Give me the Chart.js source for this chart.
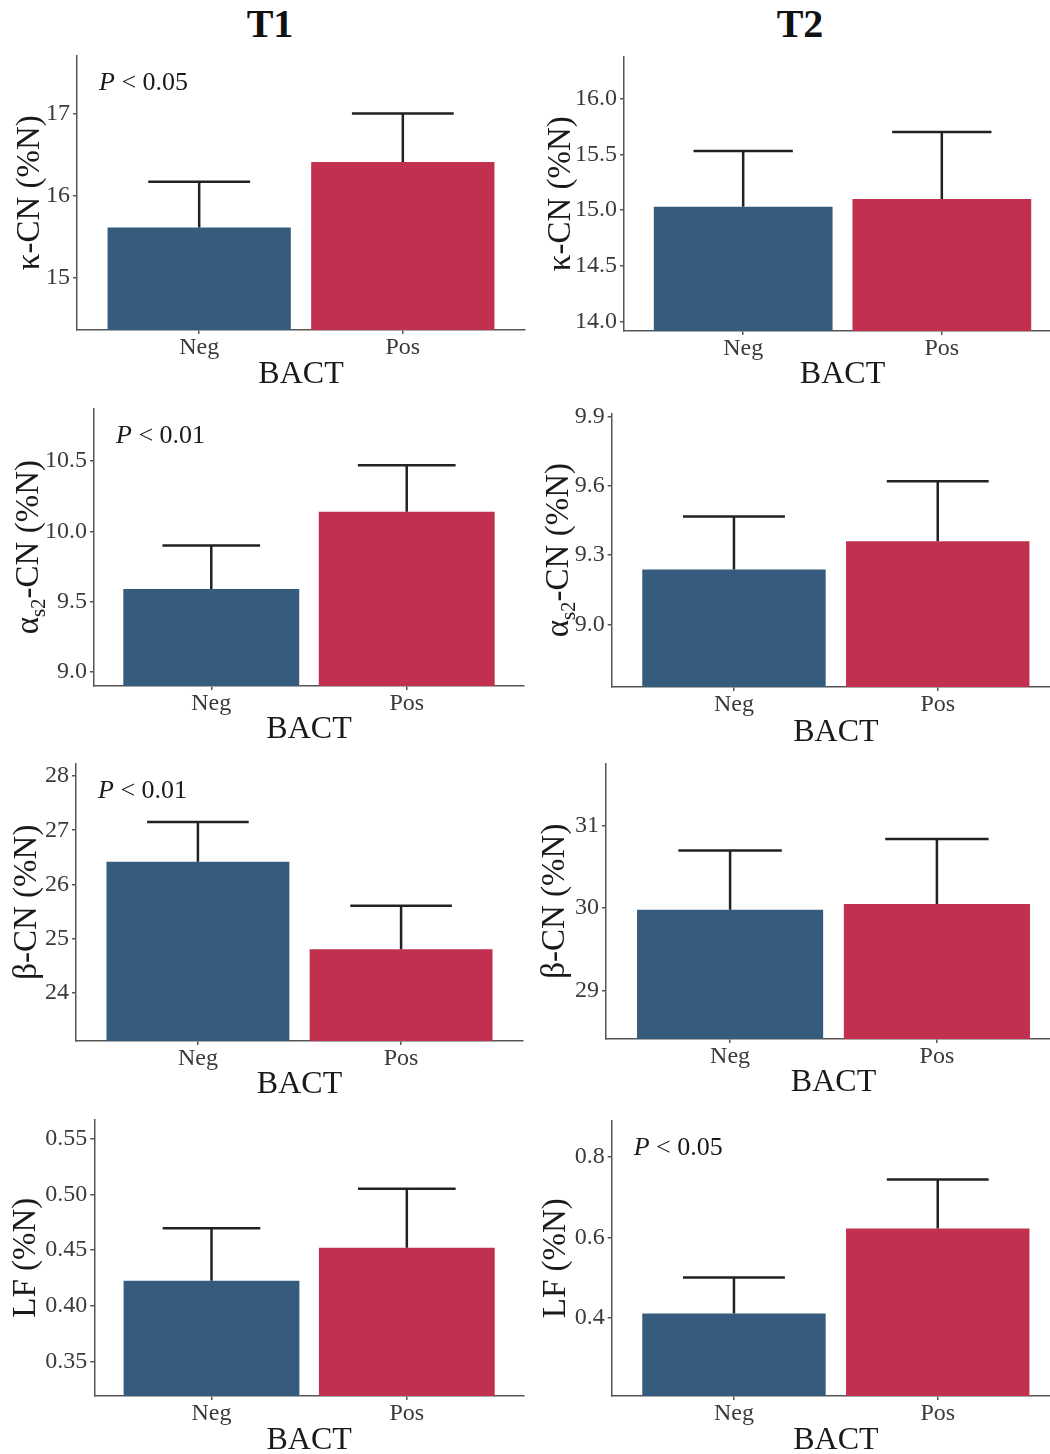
<!DOCTYPE html>
<html>
<head>
<meta charset="utf-8">
<script src="https://cdn.jsdelivr.net/npm/chart.js@4.4.1/dist/chart.umd.min.js"></script>
<style>
  html, body { margin: 0; padding: 0; background: #fff; overflow: hidden; width: 1050px; height: 1454px; }
  #page { position: relative; width: 1050px; height: 1454px; overflow: hidden; }
  canvas { position: absolute; }
  .head { position: absolute; top: 4px; font: bold 40px/40px "Liberation Serif", serif; color: #111; transform: translateX(-50%); }
</style>
</head>
<body>
<div id="page">
  <div class="head" style="left:270px">T1</div>
  <div class="head" style="left:800px">T2</div>
</div>
<script>
// groups on the x axis
const groups = ["Neg", "Pos"];
const groupPos = [1, 2];
const barColors = ["#355c7d", "#c1304f"];

// κ-CN
const kappaT1Mean = [15.61, 16.41];
const kappaT1Se = [0.56, 0.59];
const kappaT1Ticks = [15, 16, 17];
const kappaT2Mean = [15.03, 15.10];
const kappaT2Se = [0.50, 0.60];
const kappaT2Ticks = [14.0, 14.5, 15.0, 15.5, 16.0];

// αs2-CN
const alphaT1Mean = [9.59, 10.14];
const alphaT1Se = [0.31, 0.33];
const alphaT1Ticks = [9.0, 9.5, 10.0, 10.5];
const alphaT2Mean = [9.237, 9.36];
const alphaT2Se = [0.23, 0.26];
const alphaT2Ticks = [9.0, 9.3, 9.6, 9.9];

// β-CN
const betaT1Mean = [26.42, 24.81];
const betaT1Se = [0.73, 0.80];
const betaT1Ticks = [24, 25, 26, 27, 28];
const betaT2Mean = [29.98, 30.05];
const betaT2Se = [0.72, 0.79];
const betaT2Ticks = [29, 30, 31];

// LF
const lfT1Mean = [0.4226, 0.4523];
const lfT1Se = [0.047, 0.053];
const lfT1Ticks = [0.35, 0.40, 0.45, 0.50, 0.55];
const lfT2Mean = [0.411, 0.622];
const lfT2Se = [0.089, 0.121];
const lfT2Ticks = [0.4, 0.6, 0.8];

const SERIF = '"Liberation Serif", "Times New Roman", serif';
const AXIS_COLOR = "#555555";
const TICK_COLOR = "#3a3a3a";
const TEXT_COLOR = "#1a1a1a";
const XH = 64; // height kept for x labels + title
const CAP_HALF = 0.25;

const kappaTitle = [{ t: "κ-CN (%N)" }];
const alphaTitle = [{ t: "α" }, { t: "s2", sub: true }, { t: "-CN (%N)" }];
const betaTitle = [{ t: "β-CN (%N)" }];
const lfTitle = [{ t: "LF (%N)" }];

// box = [plotLeft, plotTop, plotRight, plotBottom] in page pixels
const panels = [
    { col: 0, mean: kappaT1Mean, se: kappaT1Se, ticks: kappaT1Ticks, dec: 0, yMin: 14.36, yMax: 17.71,
      yTitle: kappaTitle, p: "0.05", box: [77, 52, 525, 330], titleX: 39, xTitleY: 372.5 },
    { col: 530, mean: kappaT2Mean, se: kappaT2Se, ticks: kappaT2Ticks, dec: 1, yMin: 13.914, yMax: 16.38,
      yTitle: kappaTitle, p: null, box: [624, 53, 1061, 330.7], titleX: 570, xTitleY: 372.5 },
    { col: 0, mean: alphaT1Mean, se: alphaT1Se, ticks: alphaT1Ticks, dec: 1, yMin: 8.90, yMax: 10.875,
      yTitle: alphaTitle, p: "0.01", box: [94, 405, 524, 685.7], titleX: 38, xTitleY: 727.5 },
    { col: 530, mean: alphaT2Mean, se: alphaT2Se, ticks: alphaT2Ticks, dec: 1, yMin: 8.728, yMax: 9.914,
      yTitle: alphaTitle, p: null, box: [611.7, 410, 1060, 686.7], titleX: 568, xTitleY: 730 },
    { col: 0, mean: betaT1Mean, se: betaT1Se, ticks: betaT1Ticks, dec: 0, yMin: 23.12, yMax: 28.23,
      yTitle: betaTitle, p: "0.01", box: [76, 760, 523, 1040.7], titleX: 36, xTitleY: 1082.5 },
    { col: 530, mean: betaT2Mean, se: betaT2Se, ticks: betaT2Ticks, dec: 0, yMin: 28.41, yMax: 31.76,
      yTitle: betaTitle, p: null, box: [606, 760, 1061, 1039.3], titleX: 564, xTitleY: 1081 },
    { col: 0, mean: lfT1Mean, se: lfT1Se, ticks: lfT1Ticks, dec: 2, yMin: 0.319, yMax: 0.5675,
      yTitle: lfTitle, p: null, box: [94.3, 1116, 524, 1395.7], titleX: 35, xTitleY: 1438 },
    { col: 530, mean: lfT2Mean, se: lfT2Se, ticks: lfT2Ticks, dec: 1, yMin: 0.2065, yMax: 0.8897,
      yTitle: lfTitle, p: "0.05", box: [611.7, 1116.7, 1060, 1395.7], titleX: 565, xTitleY: 1438 },
];

const panelDecor = {
    id: "panelDecor",
    afterDatasetsDraw(chart, args, opts) {
        const p = opts.panel;
        const ctx = chart.ctx;
        const xs = chart.scales.x;
        const ys = chart.scales.y;
        ctx.save();
        ctx.strokeStyle = "#222222";
        ctx.lineWidth = 2.5;
        p.mean.forEach((m, i) => {
            const cx = xs.getPixelForValue(groupPos[i]);
            const half = xs.getPixelForValue(groupPos[i] + CAP_HALF) - cx;
            const y0 = ys.getPixelForValue(m);
            const y1 = ys.getPixelForValue(m + p.se[i]);
            ctx.beginPath();
            ctx.moveTo(cx, y0);
            ctx.lineTo(cx, y1);
            ctx.moveTo(cx - half, y1);
            ctx.lineTo(cx + half, y1);
            ctx.stroke();
        });
        ctx.restore();
    },
    afterDraw(chart, args, opts) {
        const p = opts.panel;
        const ctx = chart.ctx;
        const area = chart.chartArea;
        ctx.save();
        ctx.fillStyle = TEXT_COLOR;
        ctx.textBaseline = "alphabetic";
        ctx.textAlign = "left";

        // y-axis title, rotated, with optional subscript
        const bigFont = `33px ${SERIF}`;
        const subFont = `21px ${SERIF}`;
        let total = 0;
        const widths = p.yTitle.map((part) => {
            ctx.font = part.sub ? subFont : bigFont;
            const w = ctx.measureText(part.t).width;
            total += w;
            return w;
        });
        const tx = p.titleX - p.col;
        ctx.translate(tx, (area.top + area.bottom) / 2);
        ctx.rotate(-Math.PI / 2);
        let x = -total / 2;
        p.yTitle.forEach((part, i) => {
            ctx.font = part.sub ? subFont : bigFont;
            ctx.fillText(part.t, x, part.sub ? 7 : 0);
            x += widths[i];
        });
        ctx.setTransform(1, 0, 0, 1, 0, 0);

        // significance label
        if (p.p) {
            const px = area.left + 22;
            const py = area.top + 34.5;
            ctx.font = `italic 26px ${SERIF}`;
            ctx.fillText("P", px, py);
            const pw = ctx.measureText("P").width;
            ctx.font = `26px ${SERIF}`;
            ctx.fillText(` < ${p.p}`, px + pw, py);
        }
        ctx.restore();
    },
};

const page = document.getElementById("page");

panels.forEach((p) => {
    const [pl, pt, pr, pb] = p.box;
    const canvasTop = pt - 14;
    const width = Math.round(pr - p.col + 4);
    const height = Math.round(pb - canvasTop + XH);
    const canvas = document.createElement("canvas");
    canvas.width = width;
    canvas.height = height;
    canvas.style.left = `${p.col}px`;
    canvas.style.top = `${canvasTop}px`;
    canvas.style.width = `${width}px`;
    canvas.style.height = `${height}px`;
    page.appendChild(canvas);

    const titleLine = 32 * 1.2;
    const titlePadBottom = XH - (p.xTitleY - pb) - titleLine / 2;

    new Chart(canvas.getContext("2d"), {
        type: "bar",
        data: {
            datasets: [{
                data: groupPos.map((gx, i) => ({ x: gx, y: p.mean[i] })),
                backgroundColor: barColors,
                borderWidth: 0,
                base: p.yMin,
                barPercentage: 0.9,
                categoryPercentage: 1,
            }],
        },
        options: {
            responsive: false,
            animation: false,
            devicePixelRatio: 1,
            layout: { padding: { top: pt - canvasTop, left: 0, right: width - (pr - p.col), bottom: 0 } },
            plugins: {
                legend: { display: false },
                tooltip: { enabled: false },
                panelDecor: { panel: p },
            },
            scales: {
                x: {
                    type: "linear",
                    min: 0.4,
                    max: 2.6,
                    offset: false,
                    afterBuildTicks(scale) {
                        scale.ticks = groupPos.map((v) => ({ value: v }));
                    },
                    afterFit(scale) {
                        scale.height = XH;
                    },
                    ticks: {
                        autoSkip: false,
                        maxRotation: 0,
                        padding: -1,
                        color: TICK_COLOR,
                        font: { family: SERIF, size: 24 },
                        callback: (value, index) => groups[index],
                    },
                    grid: {
                        display: true,
                        offset: false,
                        drawOnChartArea: false,
                        drawTicks: true,
                        tickLength: 4,
                        color: AXIS_COLOR,
                        lineWidth: 1.5,
                    },
                    border: { display: true, color: AXIS_COLOR, width: 1.5 },
                    title: {
                        display: true,
                        text: "BACT",
                        color: TEXT_COLOR,
                        font: { family: SERIF, size: 32 },
                        padding: { top: 0, bottom: titlePadBottom - 2 },
                    },
                },
                y: {
                    min: p.yMin,
                    max: p.yMax,
                    afterBuildTicks(scale) {
                        scale.ticks = p.ticks.map((v) => ({ value: v }));
                    },
                    afterFit(scale) {
                        scale.width = pl - p.col;
                    },
                    ticks: {
                        autoSkip: false,
                        padding: 3,
                        color: TICK_COLOR,
                        font: { family: SERIF, size: 24 },
                        callback: (value) => Number(value).toFixed(p.dec),
                    },
                    grid: {
                        display: true,
                        drawOnChartArea: false,
                        drawTicks: true,
                        tickLength: 4,
                        color: AXIS_COLOR,
                        lineWidth: 1.5,
                    },
                    border: { display: true, color: AXIS_COLOR, width: 1.5 },
                    title: { display: false },
                },
            },
        },
        plugins: [panelDecor],
    });
});
</script>
</body>
</html>
